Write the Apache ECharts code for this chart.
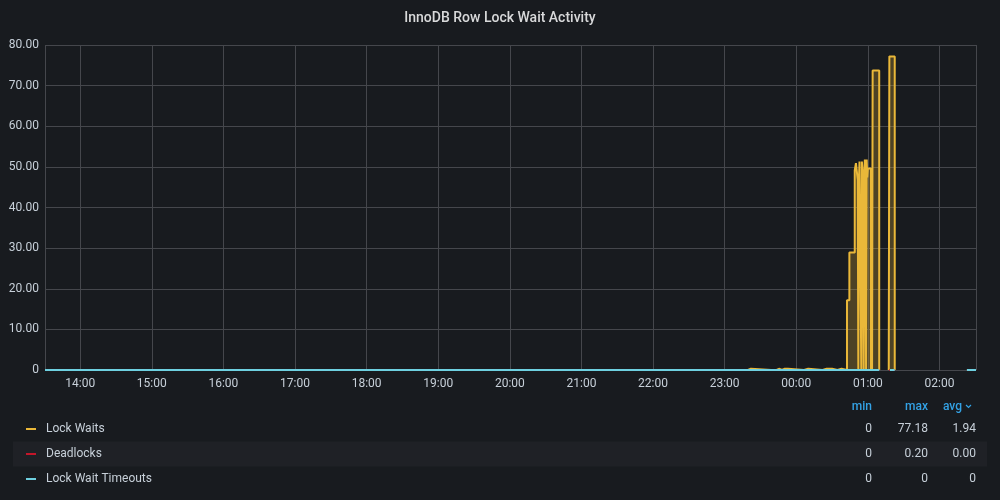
<!DOCTYPE html>
<html>
<head>
<meta charset="utf-8">
<script src="https://cdn.jsdelivr.net/npm/echarts@6/dist/echarts.min.js"></script>
<style>
  html, body { margin: 0; padding: 0; background: #181b1f; }
  #chart { width: 1000px; height: 500px; }
</style>
</head>
<body>
<div id="chart"></div>
<script>
// ---------------- DATA ----------------
const chartTitle = 'InnoDB Row Lock Wait Activity';
const seriesNames = ['Lock Waits', 'Deadlocks', 'Lock Wait Timeouts'];
const seriesColors = ['#EAB839', '#C4162A', '#6ED0E0'];
const areaColor = 'rgba(234,184,57,0.25)';
const axisStart = '13:30:30';
const axisEnd = '02:30:36';

// change points [time, value]; step holds value until next point; null = gap
const lockWaits = [
  ['13:30:30', 0],
  ['21:12:30', 0.4], ['21:14:00', 0],
  ['23:15:00', 0.3], ['23:16:00', 0],
  ['23:19:30', 0.3], ['23:22:00', 0],
  ['23:39:00', 0.3], ['23:40:30', 0],
  ['23:43:30', 0.3], ['23:46:00', 0],
  ['23:48:00', 0.3], ['23:50:00', 0],
  ['23:51:00', 0.3], ['23:53:00', 0],
  ['00:06:30', 0.3], ['00:10:00', 0],
  ['00:22:00', 0.3], ['00:25:30', 0],
  ['00:27:00', 0.3], ['00:30:00', 0],
  ['00:34:30', 0.3], ['00:38:00', 0],
  ['00:42:30', 17.2],
  ['00:44:30', 28.9],
  ['00:49:00', 49.1],
  ['00:50:00', 50.9],
  ['00:51:30', 46.8],
  ['00:52:00', 0],
  ['00:52:30', 46.8],
  ['00:53:00', 51.3],
  ['00:54:30', 0],
  ['00:55:00', 51.3],
  ['00:55:30', 48.8],
  ['00:56:30', 0],
  ['00:57:00', 48.8],
  ['00:57:30', 51.8],
  ['00:58:30', 0],
  ['00:59:00', 51.8],
  ['00:59:30', 47.4],
  ['01:00:00', 49.6],
  ['01:02:30', 0],
  ['01:03:00', 49.6],
  ['01:03:30', 0],
  ['01:04:00', 73.7],
  ['01:09:30', 0],
  ['01:10:00', null],
  ['01:17:30', 0],
  ['01:18:00', 77.2],
  ['01:22:30', 0],
  ['01:23:00', null],
  ['02:23:00', 0],
  ['02:30:36', 0]
];
const deadlocks = [
  ['13:30:30', 0],
  ['01:01:30', 0.2], ['01:02:30', 0],
  ['01:09:30', 0],
  ['01:10:00', null],
  ['01:18:00', 0],
  ['01:22:30', 0],
  ['01:23:00', null],
  ['02:23:00', 0],
  ['02:30:36', 0]
];
const lockWaitTimeouts = [
  ['13:30:30', 0],
  ['01:09:30', 0],
  ['01:10:00', null],
  ['01:18:30', 0],
  ['01:22:30', 0],
  ['01:23:00', null],
  ['02:23:00', 0],
  ['02:30:36', 0]
];
const yTicks = [0, 10, 20, 30, 40, 50, 60, 70, 80];
const statHeaders = ['min', 'max', 'avg'];
const statMin = ['0', '0', '0'];
const statMax = ['77.18', '0.20', '0'];
const statAvg = ['1.94', '0.00', '0'];

// ---------------- HELPERS ----------------
function toTs(hms) {
  const h = parseInt(hms.slice(0, 2), 10);
  const day = h >= 12 ? '2024-01-01' : '2024-01-02';
  return new Date(day + 'T' + hms).getTime();
}
function conv(arr) { return arr.map(p => [toTs(p[0]), p[1]]); }

const FONT = 'Roboto, "Noto Sans", sans-serif';
const TXT = '#c7d0d9';
const GRID = '#45474c';

const chart = echarts.init(document.getElementById('chart'), null, { renderer: 'canvas' });

const seriesData = [lockWaits, deadlocks, lockWaitTimeouts];
const series = seriesNames.map((name, i) => {
  const s = {
    name: name,
    type: 'line',
    step: 'end',
    showSymbol: false,
    connectNulls: false,
    data: conv(seriesData[i]),
    lineStyle: { color: seriesColors[i], width: 2 },
    itemStyle: { color: seriesColors[i] },
    z: 2 + i,
    emphasis: { disabled: true },
    silent: true
  };
  if (i === 0) s.areaStyle = { color: areaColor, opacity: 1 };
  return s;
});

// legend table graphics
const rowsY = [429, 454, 479];
const graphics = [];
graphics.push({ type: 'rect', shape: { x: 13, y: 441.5, width: 974, height: 25 }, style: { fill: 'rgba(204,204,220,0.04)' }, silent: true });
const colRight = [872, 928, 962];
statHeaders.forEach((h, j) => {
  graphics.push({ type: 'text', x: colRight[j], y: 406.5, style: { text: h, fill: '#33a2e5', font: '500 12px ' + FONT, textAlign: 'right', textVerticalAlign: 'middle' } });
});
graphics.push({ type: 'polyline', shape: { points: [[966, 405], [968.5, 407.5], [971, 405]] }, style: { stroke: '#33a2e5', lineWidth: 1.2, fill: null } });
const valRight = [872, 928, 976];
seriesNames.forEach((name, i) => {
  const y = rowsY[i];
  graphics.push({ type: 'rect', shape: { x: 26, y: y - 1, width: 10, height: 2 }, style: { fill: seriesColors[i] } });
  graphics.push({ type: 'text', x: 46, y: y, style: { text: name, fill: TXT, font: '12px ' + FONT, textVerticalAlign: 'middle' } });
  [statMin[i], statMax[i], statAvg[i]].forEach((v, j) => {
    graphics.push({ type: 'text', x: valRight[j], y: y, style: { text: v, fill: TXT, font: '12px ' + FONT, textAlign: 'right', textVerticalAlign: 'middle' } });
  });
});

const option = {
  backgroundColor: '#181b1f',
  animation: false,
  title: {
    text: chartTitle,
    left: 'center',
    top: 6,
    textStyle: { color: '#d8d9da', fontSize: 14, fontWeight: 500, fontFamily: FONT }
  },
  grid: { left: 45, right: 24, top: 45, bottom: 130, containLabel: false },
  xAxis: {
    type: 'time',
    min: toTs(axisStart),
    max: toTs(axisEnd),
    minInterval: 3600 * 1000,
    maxInterval: 3600 * 1000,
    axisLine: { show: false },
    axisTick: { show: false },
    splitLine: { show: true, lineStyle: { color: GRID, width: 1 } },
    axisLabel: {
      color: TXT, fontSize: 12, fontFamily: FONT, margin: 8,
      showMinLabel: false, showMaxLabel: false,
      formatter: function (v) { return echarts.time.format(v, '{HH}:{mm}', false); }
    }
  },
  yAxis: {
    type: 'value',
    min: 0, max: 80, interval: 10,
    axisLine: { show: false },
    axisTick: { show: false },
    splitLine: { show: true, lineStyle: { color: GRID, width: 1 } },
    axisLabel: {
      color: TXT, fontSize: 12, fontFamily: FONT, margin: 6,
      formatter: function (v) { return yTicks.indexOf(v) === 0 ? '0' : v.toFixed(2); }
    }
  },
  series: series,
  graphic: graphics
};
chart.setOption(option);
</script>
</body>
</html>
